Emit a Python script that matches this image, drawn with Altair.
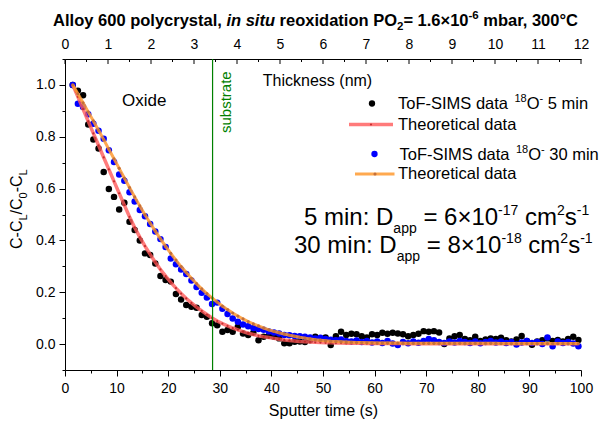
import altair as alt
import pandas as pd

# ---------------- data ----------------
time_s = [1.5, 2.5, 3.5, 4.5, 5.5, 6.5, 7.5, 8.5, 9.5, 10.5,
          11.5, 12.5, 13.5, 14.5, 15.5, 16.5, 17.5, 18.5, 19.5, 20.5,
          21.5, 22.5, 23.5, 24.5, 25.5, 26.5, 27.5, 28.5, 29.5, 30.5,
          31.5, 32.5, 33.5, 34.5, 35.5, 36.5, 37.5, 38.5, 39.5, 40.5,
          41.5, 42.5, 43.5, 44.5, 45.5, 46.5, 47.5, 48.5, 49.5, 50.5,
          51.5, 52.5, 53.5, 54.5, 55.5, 56.5, 57.5, 58.5, 59.5, 60.5,
          61.5, 62.5, 63.5, 64.5, 65.5, 66.5, 67.5, 68.5, 69.5, 70.5,
          71.5, 72.5, 73.5, 74.5, 75.5, 76.5, 77.5, 78.5, 79.5, 80.5,
          81.5, 82.5, 83.5, 84.5, 85.5, 86.5, 87.5, 88.5, 89.5, 90.5,
          91.5, 92.5, 93.5, 94.5, 95.5, 96.5, 97.5, 98.5, 99.5]

sims_5min = [1.000, 0.978, 0.960, 0.847, 0.789, 0.755, 0.664, 0.598, 0.568, 0.519,
             0.545, 0.472, 0.440, 0.400, 0.350, 0.344, 0.311, 0.263, 0.247, 0.241,
             0.193, 0.172, 0.151, 0.144, 0.140, 0.112, 0.105, 0.080, 0.073, 0.048,
             0.054, 0.048, 0.067, 0.041, 0.035, 0.044, 0.015, 0.028, 0.032, 0.028,
             0.022, 0.003, 0.003, 0.009, 0.010, 0.008, 0.015, 0.028, 0.020, 0.025,
             -0.004, 0.030, 0.048, 0.035, 0.040, 0.038, 0.030, 0.025, 0.038, 0.035,
             0.044, 0.040, 0.044, 0.041, 0.038, 0.030, 0.035, 0.040, 0.050, 0.048,
             0.050, 0.045, 0.000, 0.022, 0.030, 0.035, 0.020, 0.015, 0.028, 0.012,
             0.018, 0.022, 0.020, 0.024, 0.015, 0.010, 0.018, 0.031, 0.012, -0.003,
             0.010, 0.015, 0.022, 0.012, 0.016, 0.010, 0.020, 0.028, 0.016]

sims_30min = [1.000, 0.927, 0.915, 0.887, 0.850, 0.823, 0.792, 0.748, 0.703, 0.654,
              0.630, 0.586, 0.550, 0.517, 0.493, 0.463, 0.434, 0.405, 0.375, 0.330,
              0.308, 0.288, 0.270, 0.245, 0.220, 0.198, 0.180, 0.155, 0.160, 0.136,
              0.116, 0.099, 0.086, 0.076, 0.069, 0.062, 0.058, 0.055, 0.049, 0.045,
              0.041, 0.035, 0.034, 0.031, 0.030, 0.028, 0.025, 0.022, 0.024, 0.020,
              0.017, 0.015, 0.018, 0.012, 0.010, 0.014, 0.008, 0.012, 0.006, 0.010,
              0.004, 0.012, 0.002, -0.004, 0.008, 0.003, 0.010, 0.005, 0.012, 0.020,
              0.015, 0.008, 0.004, 0.010, 0.006, 0.012, 0.008, 0.004, 0.010, 0.003,
              0.008, 0.012, 0.006, 0.010, 0.004, 0.008, -0.002, 0.006, 0.012, 0.004,
              0.008, 0.000, 0.025, -0.008, 0.010, 0.004, 0.008, 0.002, -0.008]

theory_5min = [1.000, 0.954, 0.907, 0.860, 0.813, 0.767, 0.720, 0.674, 0.628, 0.582,
               0.536, 0.491, 0.450, 0.413, 0.378, 0.346, 0.316, 0.288, 0.262, 0.238,
               0.216, 0.195, 0.176, 0.159, 0.143, 0.128, 0.114, 0.101, 0.089, 0.079,
               0.070, 0.062, 0.055, 0.048, 0.042, 0.037, 0.032, 0.028, 0.025, 0.022,
               0.019, 0.016, 0.014, 0.012, 0.010, 0.009, 0.008, 0.007, 0.006, 0.005,
               0.005, 0.004, 0.004, 0.003, 0.003, 0.003, 0.003, 0.002, 0.002, 0.002,
               0.002, 0.002, 0.002, 0.002, 0.002, 0.001, 0.001, 0.001, 0.001, 0.001,
               0.001, 0.001, 0.001, 0.001, 0.001, 0.001, 0.001, 0.001, 0.001, 0.001,
               0.001, 0.001, 0.001, 0.001, 0.001, 0.001, 0.001, 0.001, 0.001, 0.001,
               0.001, 0.001, 0.001, 0.001, 0.001, 0.001, 0.001, 0.001, 0.001]

theory_30min = [1.000, 0.966, 0.931, 0.896, 0.861, 0.825, 0.789, 0.752, 0.715, 0.678,
                0.641, 0.604, 0.568, 0.533, 0.499, 0.467, 0.436, 0.406, 0.377, 0.350,
                0.324, 0.299, 0.276, 0.254, 0.233, 0.213, 0.195, 0.178, 0.162, 0.147,
                0.133, 0.120, 0.108, 0.097, 0.087, 0.078, 0.070, 0.062, 0.055, 0.049,
                0.044, 0.039, 0.034, 0.030, 0.026, 0.023, 0.020, 0.017, 0.015, 0.013,
                0.011, 0.010, 0.009, 0.008, 0.007, 0.006, 0.006, 0.005, 0.005, 0.004,
                0.004, 0.004, 0.004, 0.004, 0.003, 0.003, 0.003, 0.003, 0.003, 0.003,
                0.003, 0.003, 0.003, 0.003, 0.003, 0.003, 0.003, 0.003, 0.003, 0.003,
                0.003, 0.003, 0.003, 0.002, 0.002, 0.002, 0.002, 0.002, 0.002, 0.002,
                0.002, 0.002, 0.002, 0.002, 0.002, 0.002, 0.002, 0.002, 0.002]

substrate_time = [28.6]

x_tick_values = [0, 5, 10, 15, 20, 25, 30, 35, 40, 45, 50,
                 55, 60, 65, 70, 75, 80, 85, 90, 95, 100]
y_tick_values = [-0.1, 0.0, 0.1, 0.2, 0.3, 0.4, 0.5, 0.6, 0.7, 0.8, 0.9, 1.0, 1.1]
nm_major = [0, 1, 2, 3, 4, 5, 6, 7, 8, 9, 10, 11, 12]
nm_minor = [0.5, 1.5, 2.5, 3.5, 4.5, 5.5, 6.5, 7.5, 8.5, 9.5, 10.5, 11.5]

legend_data_labels = ["ToF-SIMS data ", " 5 min", " 30 min"]
legend_theory_label = "Theoretical data"

# ---------------- layout ----------------
W, H = 516, 311
PAD_L, PAD_T, PAD_R, PAD_B = 57, 51, 19, 51
OX, OY = 8 + PAD_L, 8 + PAD_T   # page position of plot origin
FONT = "Liberation Sans"
LEG_DX = -9                      # legend nudged left so that its labels fit

BLACK = "#000000"
BLUE = "#0000ff"
RED = "#ff5a5a"
ORANGE = "#ff9a30"
GREEN = "#008000"

REG = {' ': 278, 'T': 611, 'o': 556, 'F': 611, '-': 333, 'S': 667, 'I': 278, 'M': 833,
       'd': 556, 'a': 556, 't': 278, 'O': 778, 'm': 833, 'i': 222, 'n': 556, ':': 278,
       'D': 722, 'p': 556, '=': 584, '×': 584, 'c': 500, 's': 500, 'C': 722, 'L': 556,
       '/': 278, 'h': 556, 'e': 556, 'r': 333, 'l': 222}
BOLD = {' ': 278, 'A': 722, 'l': 278, 'o': 611, 'y': 556, 'p': 611, 'c': 556, 'r': 389,
        's': 556, 't': 333, 'a': 556, ',': 278, 'i': 278, 'n': 611, 'u': 611, 'e': 556,
        'x': 556, 'd': 611, 'P': 667, 'O': 778, '=': 584, '.': 278, '×': 584, '-': 333,
        'm': 889, 'b': 611, '°': 400, 'C': 722}


def text_width(s, size, bold=False):
    table = BOLD if bold else REG
    return sum(table.get(ch, 556) for ch in s) * size / 1000.0


texts = []


def add(text, px, py, size, color=BLACK, bold=False, italic=False, angle=0):
    texts.append({"text": text, "x": px - OX, "y": py - OY, "fs": size, "col": color,
                  "ang": angle, "grp": ("b" if bold else "n") + ("i" if italic else "r")})


def chain(pieces, start, base, vertical=False, bold_all=False, color=BLACK):
    """pieces: (text, size, shift, italic). Lays out runs one after another."""
    pos = start
    for txt, size, shift, italic in pieces:
        lead = len(txt) - len(txt.lstrip(' '))
        w_lead = text_width(' ' * lead, size, bold_all)
        core = txt.strip(' ')
        if vertical:
            add(core, base + shift, pos - w_lead, size, color, bold_all, italic, 270)
            pos -= text_width(txt, size, bold_all)
        else:
            add(core, pos + w_lead, base + shift, size, color, bold_all, italic, 0)
            pos += text_width(txt, size, bold_all)
    return pos


# title (bold, with italic "in situ", subscript and superscript)
title_pieces = [("Alloy 600 polycrystal, ", 16.5, 0, False), ("in situ", 16.5, 0, True),
                (" reoxidation PO", 16.5, 0, False), ("2", 11.5, 4, False),
                ("= 1.6×10", 16.5, 0, False), ("-6", 11.5, -7, False),
                (" mbar, 300°C", 16.5, 0, False)]
tw = sum(text_width(p[0], p[1], True) for p in title_pieces)
chain(title_pieces, 316 - tw / 2, 26, bold_all=True)

# y axis title, rotated
chain([("C-C", 16, 0, False), ("L", 11, 5, False), ("/C", 16, 0, False),
       ("0", 11, 5, False), ("-C", 16, 0, False), ("L", 11, 5, False)],
      249, 22, vertical=True)

# annotations
add("Oxide", 122, 106, 17)
add("substrate", 231, 133, 15, GREEN, angle=270)

chain([("5 min: D", 24, 0, False), ("app", 14, 8, False), (" = 6×10", 24, 0, False),
       ("-17", 14, -10, False), (" cm", 24, 0, False), ("2", 14, -10, False),
       ("s", 24, 0, False), ("-1", 14, -10, False)], 304, 225)
chain([("30 min: D", 24, 0, False), ("app", 14, 8, False), (" = 8×10", 24, 0, False),
       ("-18", 14, -10, False), (" cm", 24, 0, False), ("2", 14, -10, False),
       ("s", 24, 0, False), ("-1", 14, -10, False)], 294, 253)

# legend labels
chain([(legend_data_labels[0], 16.5, 0, False), ("18", 11, -7, False), ("O", 16.5, 0, False),
       ("-", 11, -7, False), (legend_data_labels[1], 16.5, 0, False)], 407 + LEG_DX, 108.5)
add(legend_theory_label, 407 + LEG_DX, 130, 16.5)
chain([(legend_data_labels[0], 16.5, 0, False), ("18", 11, -7, False), ("O", 16.5, 0, False),
       ("-", 11, -7, False), (legend_data_labels[2], 16.5, 0, False)], 408.5 + LEG_DX, 160)
add(legend_theory_label, 407 + LEG_DX, 178.5, 16.5)

tdf = pd.DataFrame(texts)

# ---------------- encodings ----------------
df = pd.DataFrame({"t": time_s, "d5": sims_5min, "d30": sims_30min,
                   "m5": theory_5min, "m30": theory_30min})

x_axis = alt.Axis(values=x_tick_values, title="Sputter time (s)",
                  labelExpr="datum.value % 10 == 0 ? datum.label : ''",
                  tickSize=6, tickWidth=1, tickColor=BLACK,
                  tickDash={"condition": {"test": "datum.value % 10 != 0", "value": [3, 20]},
                            "value": [20, 0]},
                  domainColor=BLACK, domainWidth=1, grid=False,
                  labelFontSize=14, labelColor=BLACK, labelPadding=5, labelFlush=False,
                  titleFontSize=16, titleFontWeight="normal", titleColor=BLACK,
                  titleBaseline="alphabetic", titleY=45)
x_scale = alt.Scale(domain=[0, 100], nice=False, zero=False)

y_axis = alt.Axis(values=y_tick_values, title=None,
                  labelExpr="abs(round(datum.value*10)) % 2 == 0 ? format(datum.value, '.1f') : ''",
                  tickSize=6, tickWidth=1, tickColor=BLACK,
                  tickDash={"condition": {"test": "abs(round(datum.value*10)) % 2 == 1",
                                          "value": [3, 20]},
                            "value": [20, 0]},
                  domainColor=BLACK, domainWidth=1, grid=False,
                  labelFontSize=14, labelColor=BLACK, labelPadding=4, labelFlush=False)
y_scale = alt.Scale(domain=[-0.1, 1.1], nice=False, zero=False)


def X(field="t"):
    return alt.X(f"{field}:Q", scale=x_scale, axis=x_axis)


def Y(field):
    return alt.Y(f"{field}:Q", scale=y_scale, axis=y_axis)


base = alt.Chart(df)
pts5 = base.mark_circle(size=42, color=BLACK, opacity=1).encode(x=X(), y=Y("d5"))
pts30 = base.mark_circle(size=42, color=BLUE, opacity=1).encode(x=X(), y=Y("d30"))
line5 = base.mark_line(color=RED, strokeWidth=3.5, opacity=0.8).encode(x=X(), y=Y("m5"))
mk5 = base.mark_circle(size=5, color="#c02828", opacity=0.9).encode(x=X(), y=Y("m5"))
line30 = base.mark_line(color=ORANGE, strokeWidth=3, opacity=0.85).encode(x=X(), y=Y("m30"))
mk30 = base.mark_circle(size=10, color="#c4703a", opacity=1).encode(x=X(), y=Y("m30"))

sub_df = pd.DataFrame({"t": substrate_time})
green = alt.Chart(sub_df).mark_rule(color=GREEN, strokeWidth=1.2).encode(x=X())

# legend symbols
one = pd.DataFrame({"k": [legend_theory_label]})
leg = [
    alt.Chart(one).mark_circle(size=40, color=BLACK, opacity=1).encode(
        x=alt.value(381 + LEG_DX - OX), y=alt.value(103.5 - OY)),
    alt.Chart(one).mark_rule(color=RED, strokeWidth=3.5, opacity=0.8).encode(
        x=alt.value(358 + LEG_DX - OX), x2=alt.value(402 + LEG_DX - OX), y=alt.value(124.5 - OY)),
    alt.Chart(one).mark_circle(size=5, color="#c02828", opacity=0.9).encode(
        x=alt.value(380 + LEG_DX - OX), y=alt.value(124.5 - OY)),
    alt.Chart(one).mark_circle(size=40, color=BLUE, opacity=1).encode(
        x=alt.value(383.5 + LEG_DX - OX), y=alt.value(154 - OY)),
    alt.Chart(one).mark_rule(color=ORANGE, strokeWidth=3, opacity=0.85).encode(
        x=alt.value(364 + LEG_DX - OX), x2=alt.value(403.5 + LEG_DX - OX), y=alt.value(174 - OY)),
    alt.Chart(one).mark_circle(size=10, color="#c4703a", opacity=1).encode(
        x=alt.value(384 + LEG_DX - OX), y=alt.value(174 - OY)),
]

text_layers = []
for grp, sub in tdf.groupby("grp"):
    kw = {}
    if grp[0] == "b":
        kw["fontWeight"] = "bold"
    if grp[1] == "i":
        kw["fontStyle"] = "italic"
    text_layers.append(
        alt.Chart(sub).mark_text(align="left", baseline="alphabetic", font=FONT, **kw).encode(
            x=alt.X("x:Q", scale=None, axis=None),
            y=alt.Y("y:Q", scale=None, axis=None),
            text="text:N",
            size=alt.Size("fs:Q", scale=None, legend=None),
            angle=alt.Angle("ang:Q", scale=None, legend=None),
            color=alt.Color("col:N", scale=None, legend=None),
        )
    )

main = alt.layer(pts5, pts30, line5, mk5, line30, mk30, green, *leg, *text_layers)

# top axis (thickness in nm), ticks drawn inward
nm_axis = alt.Axis(orient="top", values=nm_major, ticks=False, tickSize=0,
                   domainColor=BLACK, domainWidth=1, grid=False,
                   labelFontSize=14, labelColor=BLACK, labelPadding=8, labelFlush=False,
                   title="Thickness (nm)", titleFontSize=16, titleFontWeight="normal",
                   titleColor=BLACK, titleX=252, titleY=26, titleBaseline="alphabetic",
                   titleAlign="center")
nm_scale = alt.Scale(domain=[0, 12], nice=False, zero=False)
top_major = alt.Chart(pd.DataFrame({"nm": nm_major})).mark_rule(color=BLACK, strokeWidth=1).encode(
    x=alt.X("nm:Q", scale=nm_scale, axis=nm_axis), y=alt.value(0), y2=alt.value(5))
top_minor = alt.Chart(pd.DataFrame({"nm": nm_minor})).mark_rule(color=BLACK, strokeWidth=1).encode(
    x=alt.X("nm:Q", scale=nm_scale, axis=nm_axis), y=alt.value(0), y2=alt.value(3))
top = alt.layer(top_major, top_minor)

chart = alt.layer(main, top).resolve_scale(x="independent").properties(
    width=W, height=H,
    padding={"left": PAD_L, "top": PAD_T, "right": PAD_R, "bottom": PAD_B},
    autosize=alt.AutoSizeParams(type="none"),
    background="white",
).configure_view(stroke="transparent").configure_axis(
    labelFont=FONT, titleFont=FONT
)

chart.save("out.html", embed_options={"renderer": "svg", "actions": False})
